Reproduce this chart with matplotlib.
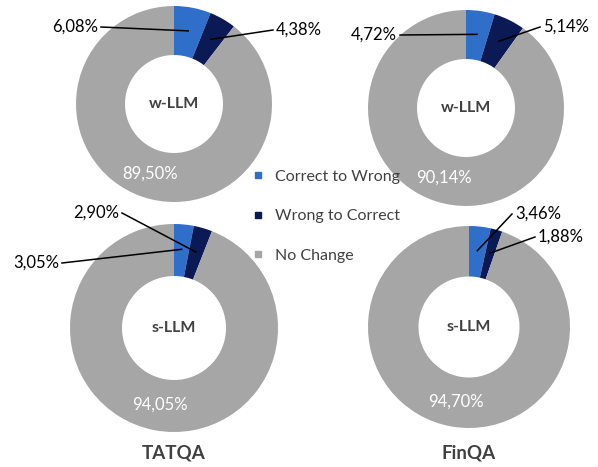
import numpy as np
from matplotlib import pyplot as plt
from matplotlib.lines import Line2D

# values in percent: correct->wrong, wrong->correct, no change
categories = ['Correct to Wrong', 'Wrong to Correct', 'No Change']
tatqa_w = [6.08, 4.38, 89.50]
finqa_w = [4.72, 5.14, 90.14]
tatqa_s = [3.05, 2.90, 94.05]
finqa_s = [3.46, 1.88, 94.70]
datasets = ['TATQA', 'FinQA']
models = ['w-LLM', 's-LLM']

colors = ['#2F6FCA', '#0B1A55', '#A6A6A6']
dark = '#404040'

W, H = 598, 467

# layout in pixels (x, y from top): center, radius
layout = {
    ('TATQA', 'w-LLM'): ((174, 104), 98),
    ('FinQA', 'w-LLM'): ((466, 108), 98),
    ('TATQA', 's-LLM'): ((174, 328), 104),
    ('FinQA', 's-LLM'): ((469, 327), 101),
}
# outside label anchors per small slice: (x, y, ha)
label_pos = {
    ('TATQA', 'w-LLM'): [(98, 27, 'right'), (276, 30, 'left')],
    ('FinQA', 'w-LLM'): [(397, 35, 'right'), (543, 27, 'left')],
    ('TATQA', 's-LLM'): [(59, 263, 'right'), (119, 213, 'right')],
    ('FinQA', 's-LLM'): [(515, 214, 'left'), (538, 237, 'left')],
}
values = {
    ('TATQA', 'w-LLM'): tatqa_w,
    ('FinQA', 'w-LLM'): finqa_w,
    ('TATQA', 's-LLM'): tatqa_s,
    ('FinQA', 's-LLM'): finqa_s,
}

plt.rcParams['font.family'] = ['Lato', 'DejaVu Sans']

fig = plt.figure(figsize=(W / 100, H / 100), dpi=100)
ax = fig.add_axes([0, 0, 1, 1])


def fmt(v):
    return f'{v:.2f}'.replace('.', ',') + '%'


for key, vals in values.items():
    (cx, cy), r = layout[key]
    cy = H - cy
    wedges, _ = ax.pie(vals, colors=colors, startangle=90, counterclock=False,
                       center=(cx, cy), radius=r,
                       wedgeprops=dict(width=r * 0.5, linewidth=0))
    ax.text(cx, cy, key[1], ha='center', va='center', fontsize=11.5,
            fontweight='bold', color=dark)
    # small slices: labels with leader lines
    for w, v, (tx, ty, ha) in zip(wedges[:2], vals[:2], label_pos[key]):
        ang = np.deg2rad((w.theta1 + w.theta2) / 2)
        px, py = cx + 0.76 * r * np.cos(ang), cy + 0.76 * r * np.sin(ang)
        ty = H - ty
        gap = 3 if ha == 'left' else -3
        ax.text(tx, ty, fmt(v), ha=ha, va='center', fontsize=12, color='black')
        ax.plot([tx - gap, px], [ty, py], color='black', linewidth=1.1)
    # big slice label inside the ring
    w = wedges[2]
    ang = np.deg2rad((w.theta1 + w.theta2) / 2)
    ax.text(cx + 0.75 * r * np.cos(ang), cy + 0.75 * r * np.sin(ang), fmt(vals[2]),
            ha='center', va='center', fontsize=12, color='white')

for name in datasets:
    (cx, _), _ = layout[(name, 's-LLM')]
    ax.text(cx, H - 453, name, ha='center', va='center', fontsize=13.5,
            fontweight='bold', color=dark)

# pie() resets the limits, so set them afterwards
ax.set_xlim(0, W)
ax.set_ylim(0, H)
ax.set_aspect('equal')
ax.axis('off')

handles = [Line2D([], [], marker='s', linestyle='none', markersize=5,
                  markerfacecolor=c, markeredgecolor=c) for c in colors]
leg = fig.legend(handles, categories, loc='upper left',
                 bbox_to_anchor=(237 / W, 1 - 155 / H), frameon=False,
                 fontsize=11.5, labelspacing=1.6, handlelength=0.8,
                 handletextpad=0.7, labelcolor=dark)

fig.savefig('out.png', dpi=100)
